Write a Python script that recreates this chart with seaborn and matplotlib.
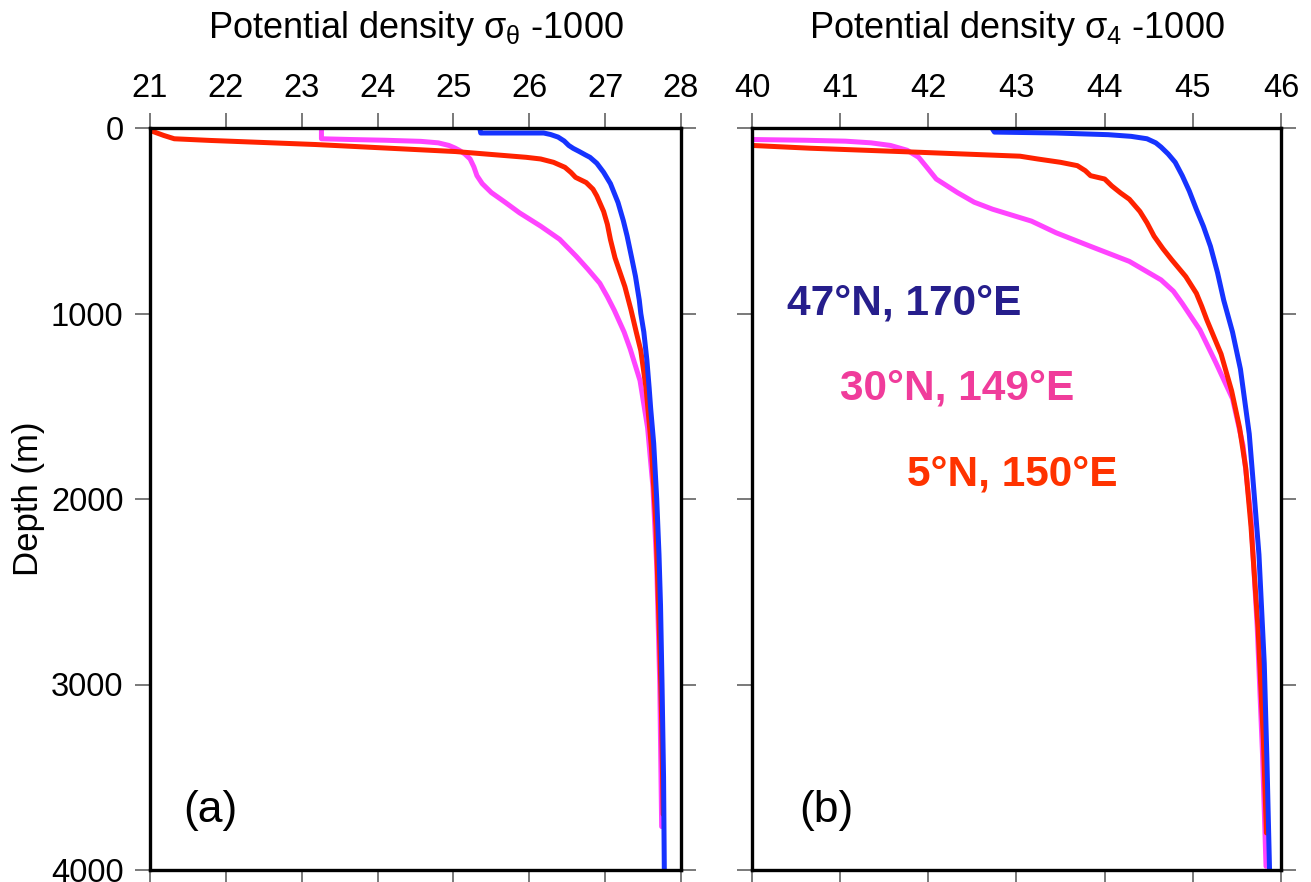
import matplotlib
matplotlib.use("Agg")
import matplotlib.pyplot as plt
import seaborn as sns
import pandas as pd

# ---------------- data ----------------
stations = ["47°N, 170°E", "30°N, 149°E", "5°N, 150°E"]

# Panel (a): sigma-theta - 1000
a_north_depth = [7, 27, 27, 35, 49, 70, 94, 110, 127, 145, 158, 190, 239, 300, 402, 500, 583, 700, 800, 928,
                 1000, 1100, 1250, 1400, 1511, 1700, 2000, 2300, 2574, 3000, 3500, 4000]
a_north_sig = [25.35, 25.36, 26.19, 26.28, 26.38, 26.46, 26.52, 26.58, 26.66, 26.74, 26.80, 26.89, 26.98, 27.07,
               27.17, 27.24, 27.29, 27.35, 27.40, 27.45, 27.47, 27.51, 27.55, 27.58, 27.60, 27.64, 27.68, 27.71,
               27.73, 27.75, 27.77, 27.78]

a_sub_depth = [0, 58, 62, 66, 72, 80, 94, 108, 121, 140, 167, 210, 257, 300, 348, 400, 457, 529, 600, 692, 760,
               837, 910, 982, 1100, 1191, 1362, 1617, 1936, 2362, 3000, 3766]
a_sub_sig = [23.26, 23.26, 23.64, 24.10, 24.57, 24.80, 24.94, 25.02, 25.08, 25.15, 25.22, 25.27, 25.31, 25.38,
             25.50, 25.68, 25.87, 26.15, 26.40, 26.62, 26.77, 26.93, 27.03, 27.12, 27.25, 27.33, 27.46, 27.56,
             27.63, 27.68, 27.72, 27.745]

a_eq_depth = [13, 25, 40, 58, 67, 89, 127, 158, 167, 185, 212, 240, 266, 294, 330, 366, 450, 520, 602, 700, 855,
              979, 1100, 1200, 1404, 1723, 2149, 2787, 3200, 3700]
a_eq_sig = [21.00, 21.08, 21.18, 21.32, 21.79, 23.18, 25.03, 25.96, 26.15, 26.32, 26.47, 26.55, 26.61, 26.75,
            26.84, 26.89, 26.98, 27.03, 27.07, 27.13, 27.26, 27.34, 27.41, 27.47, 27.54, 27.61, 27.67, 27.72,
            27.745, 27.765]

# Panel (b): sigma-4 - 1000
b_north_depth = [7, 22, 27, 36, 45, 58, 80, 103, 140, 185, 257, 340, 438, 530, 638, 780, 928, 1100, 1300, 1650,
                 2000, 2300, 2885, 3400, 4000]
b_north_sig = [42.73, 42.75, 43.45, 44.04, 44.30, 44.48, 44.58, 44.64, 44.72, 44.80, 44.88, 44.96, 45.04, 45.12,
               45.20, 45.28, 45.35, 45.45, 45.54, 45.64, 45.70, 45.75, 45.81, 45.84, 45.87]

b_sub_depth = [62, 66, 71, 80, 94, 120, 158, 210, 275, 348, 400, 438, 502, 565, 638, 719, 819, 880, 946, 1088,
               1264, 1459, 1713, 2104, 2690, 3373, 3980]
b_sub_sig = [40.00, 40.60, 41.06, 41.35, 41.57, 41.76, 41.89, 41.98, 42.09, 42.33, 42.52, 42.73, 43.17, 43.45,
             43.84, 44.28, 44.64, 44.78, 44.88, 45.08, 45.26, 45.45, 45.57, 45.66, 45.73, 45.79, 45.83]

b_eq_depth = [94, 109, 130, 152, 167, 185, 203, 230, 257, 275, 312, 350, 384, 450, 511, 583, 650, 710, 801, 891,
              960, 1036, 1218, 1417, 1616, 1833, 2150, 2700, 3300, 3800]
b_eq_sig = [40.00, 40.66, 41.85, 43.04, 43.24, 43.50, 43.69, 43.78, 43.84, 44.00, 44.08, 44.18, 44.28, 44.40,
            44.48, 44.56, 44.66, 44.76, 44.92, 45.04, 45.10, 45.16, 45.32, 45.44, 45.53, 45.60, 45.66, 45.74,
            45.80, 45.835]

a_ticks = [21, 22, 23, 24, 25, 26, 27, 28]
b_ticks = [40, 41, 42, 43, 44, 45, 46]
depth_ticks = [0, 1000, 2000, 3000, 4000]

# ---------------- style ----------------
sns.set_style("ticks")
plt.rcParams["font.family"] = ["Liberation Sans", "DejaVu Sans"]
plt.rcParams["mathtext.fontset"] = "custom"
plt.rcParams["mathtext.rm"] = "Liberation Sans"
plt.rcParams["mathtext.it"] = "Liberation Sans"
plt.rcParams["mathtext.bf"] = "Liberation Sans:bold"
plt.rcParams["text.color"] = "black"
plt.rcParams["axes.labelcolor"] = "black"
plt.rcParams["xtick.labelcolor"] = "black"
plt.rcParams["ytick.labelcolor"] = "black"

line_colors = {stations[0]: "#1633ff", stations[1]: "#ff44ff", stations[2]: "#ff2200"}
text_colors = {stations[0]: "#261e8c", stations[1]: "#f03c9b", stations[2]: "#ff3300"}
hue_order = [stations[1], stations[2], stations[0]]


def frame(depths, sigs, name):
    return pd.DataFrame({"depth": depths, "sigma": sigs, "station": name})


df_a = pd.concat([
    frame(a_north_depth, a_north_sig, stations[0]),
    frame(a_sub_depth, a_sub_sig, stations[1]),
    frame(a_eq_depth, a_eq_sig, stations[2]),
])
df_b = pd.concat([
    frame(b_north_depth, b_north_sig, stations[0]),
    frame(b_sub_depth, b_sub_sig, stations[1]),
    frame(b_eq_depth, b_eq_sig, stations[2]),
])

W, H = 1311, 882
fig = plt.figure(figsize=(W / 100, H / 100), dpi=100)
axa = fig.add_axes([150 / W, 1 - 870 / H, 531 / W, 742 / H])
axb = fig.add_axes([752 / W, 1 - 870 / H, 529 / W, 742 / H])

for ax, df, xt, xl in [
    (axa, df_a, a_ticks, r"Potential density σ$_{θ}$ -1000"),
    (axb, df_b, b_ticks, r"Potential density σ$_{4}$ -1000"),
]:
    sns.lineplot(data=df, x="sigma", y="depth", hue="station", hue_order=hue_order,
                 palette=line_colors, sort=False, estimator=None, lw=3.6,
                 legend=False, ax=ax)
    ax.set_xlim(xt[0], xt[-1])
    ax.set_ylim(4000, 0)
    ax.set_xticks(xt)
    ax.set_yticks(depth_ticks)
    ax.xaxis.tick_top()
    ax.xaxis.set_label_position("top")
    ax.tick_params(axis="both", which="both", direction="out", length=11, width=1.1,
                   color="#555555", top=True, bottom=True, left=True, right=True,
                   labeltop=True, labelbottom=False, labelsize=23.5)
    ax.tick_params(axis="x", pad=6.5)
    ax.tick_params(axis="y", pad=8)
    ax.set_xlabel(xl, fontsize=26, labelpad=25)
    for s in ax.spines.values():
        s.set_linewidth(2.4)
        s.set_color("black")
        s.set_visible(True)

axa.set_ylabel("Depth (m)", fontsize=25, labelpad=4)
axb.set_ylabel("")
axb.tick_params(labelleft=False)

axa.text(21.435, 3741, "(a)", fontsize=32, ha="left", va="baseline")
axb.text(40.54, 3741, "(b)", fontsize=32, ha="left", va="baseline")

axb.text(40.40, 1008, stations[0], fontsize=30.5, fontweight="bold",
         color=text_colors[stations[0]], ha="left", va="baseline")
axb.text(41.00, 1466, stations[1], fontsize=30.5, fontweight="bold",
         color=text_colors[stations[1]], ha="left", va="baseline")
axb.text(41.76, 1925, stations[2], fontsize=30.5, fontweight="bold",
         color=text_colors[stations[2]], ha="left", va="baseline")

fig.savefig("out.png", dpi=100, facecolor="white")
